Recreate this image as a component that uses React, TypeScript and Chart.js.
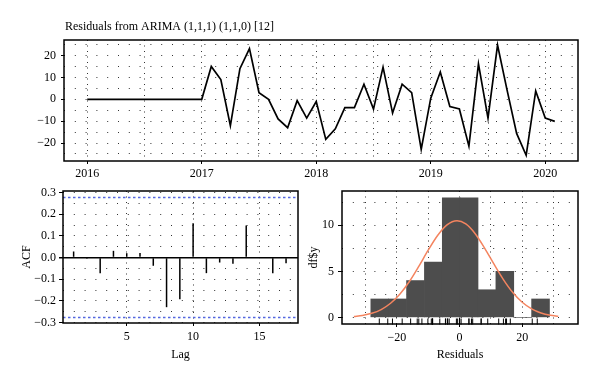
import React, { useEffect, useRef } from 'react';
import { Chart, registerables } from 'chart.js';

Chart.register(...registerables);

// ---------- DATA ----------
const chartTitle = 'Residuals from ARIMA (1,1,1) (1,1,0) [12]';
const startYear = 2016;
// monthly residuals Jan 2016 .. Feb 2020
const residuals = [
  0, 0, 0, 0, 0, 0, 0, 0, 0, 0, 0, 0,
  0, 15, 9, -12, 14, 23.2, 3, 0, -9, -13, -0.6, -8.6,
  -1, -18.3, -13.5, -3.8, -3.8, 6.9, -4.5, 14.7, -6.3, 6.9, 3, -22.9,
  0.5, 12.5, -3.3, -4.4, -21.4, 16.2, -8.6, 24.8, 4.2, -15.6, -25.6, 3.8,
  -8.6, -10.1,
];
const yearTicks = [2016, 2017, 2018, 2019, 2020];

const acfLags = [1, 2, 3, 4, 5, 6, 7, 8, 9, 10, 11, 12, 13, 14, 15, 16, 17];
const acfValues = [0.028, -0.005, -0.072, 0.031, 0.02, 0.021, -0.038, -0.229, -0.192, 0.158, -0.072, -0.023, -0.029, 0.148, -0.003, -0.072, -0.026];
const acfBound = 0.277;

const histBinEdges = [-28.3, -22.6, -16.9, -11.2, -5.5, 0.2, 5.9, 11.6, 17.3, 23.0, 28.7];
const histCounts = [2, 2, 4, 6, 13, 13, 3, 5, 0, 2];
const normalCurveX = [-33.7, -31, -28, -25, -22, -19, -16, -13, -10, -7, -4, -0.8, 2, 5, 8, 11, 14, 17, 20, 23, 26, 29, 31.5];
const normalCurveY = [0.1, 0.21, 0.44, 0.85, 1.53, 2.54, 3.9, 5.55, 7.3, 8.9, 10.05, 10.5, 10.15, 9.09, 7.53, 5.78, 4.11, 2.7, 1.64, 0.93, 0.48, 0.23, 0.12];

// ---------- STYLE ----------
const FONT_FAMILY = "'Liberation Serif', 'Times New Roman', serif";
const FONT = { family: FONT_FAMILY, size: 12 };
const DOT = '#333';
const ROW_DASH = [1, 9.8];
const COL_DASH = [1, 4.5];

const minus = (s: string) => s.replace('-', '\u2212');
const near = (a: number, b: number) => Math.abs(a - b) < 1e-6;
const isMult = (v: number, m: number) => near(v / m, Math.round(v / m));

const framePlugin = {
  id: 'frame',
  afterDraw(chart: any) {
    const { ctx, chartArea: a } = chart;
    ctx.save();
    ctx.strokeStyle = '#000';
    ctx.lineWidth = 1.5;
    ctx.setLineDash([]);
    ctx.strokeRect(a.left, a.top, a.right - a.left, a.bottom - a.top);
    ctx.restore();
  },
};

const titlePlugin = {
  id: 'tsTitle',
  afterDraw(chart: any) {
    const { ctx, chartArea: a } = chart;
    ctx.save();
    ctx.font = `12px ${FONT_FAMILY}`;
    ctx.fillStyle = '#000';
    ctx.textBaseline = 'alphabetic';
    ctx.textAlign = 'left';
    ctx.fillText(chartTitle, a.left + 1, 30);
    ctx.restore();
  },
};

const boundPlugin = {
  id: 'acfBounds',
  afterDatasetsDraw(chart: any) {
    const { ctx, chartArea: a, scales } = chart;
    ctx.save();
    ctx.strokeStyle = '#5468e0';
    ctx.lineWidth = 1.5;
    ctx.setLineDash([2.5, 2.5]);
    for (const b of [acfBound, -acfBound]) {
      const py = scales.y.getPixelForValue(b);
      ctx.beginPath();
      ctx.moveTo(a.left, py);
      ctx.lineTo(a.right, py);
      ctx.stroke();
    }
    ctx.restore();
  },
};

function tsConfig(): any {
  const pts = residuals.map((v, i) => ({ x: startYear + i / 12, y: v }));
  return {
    type: 'line',
    data: {
      datasets: [
        { data: pts, borderColor: '#000', borderWidth: 1.7, pointRadius: 0, tension: 0, fill: false },
      ],
    },
    options: {
      animation: false,
      responsive: false,
      layout: { padding: { left: 0, right: 22, top: 40, bottom: 197 } },
      plugins: { legend: { display: false }, tooltip: { enabled: false } },
      scales: {
        x: {
          type: 'linear',
          min: 2015.797,
          max: 2020.286,
          offset: false,
          afterFit: (s: any) => { s.height = 24; },
          ticks: {
            stepSize: 0.5, includeBounds: false, autoSkip: false, maxRotation: 0, padding: 3,
            font: FONT, color: '#000',
            callback: (v: number) => (yearTicks.some((y) => near(y, v)) ? String(Math.round(v)) : ''),
          },
          grid: {
            color: DOT, lineWidth: 1, tickLength: 3, tickWidth: 1,
            tickColor: (c: any) => (c.tick && isMult(c.tick.value, 1) ? '#000' : 'rgba(0,0,0,0)'),
          },
          border: { display: false, dash: COL_DASH },
        },
        y: {
          type: 'linear',
          min: -28.2,
          max: 27.1,
          afterFit: (s: any) => { s.width = 64; },
          ticks: {
            stepSize: 5, includeBounds: false, autoSkip: false, padding: 5, font: FONT, color: '#000',
            callback: (v: number) => (isMult(v, 10) ? minus(String(Math.round(v))) : ''),
          },
          grid: {
            color: DOT, lineWidth: 1, tickLength: 3, tickWidth: 1,
            tickColor: (c: any) => (c.tick && isMult(c.tick.value, 10) ? '#000' : 'rgba(0,0,0,0)'),
          },
          border: { display: false, dash: ROW_DASH },
        },
      },
    },
    plugins: [framePlugin, titlePlugin],
  };
}

function acfConfig(): any {
  return {
    type: 'line',
    data: {
      datasets: [
        {
          type: 'bar',
          data: acfLags.map((l, i) => ({ x: l, y: acfValues[i] })),
          backgroundColor: '#000',
          borderWidth: 0,
          barThickness: 1.5,
          inflateAmount: 0,
        },
      ],
    },
    options: {
      animation: false,
      responsive: false,
      layout: { padding: { left: 0, right: 302, top: 191, bottom: 0 } },
      plugins: { legend: { display: false }, tooltip: { enabled: false } },
      scales: {
        x: {
          type: 'linear', min: 0.2, max: 17.9, offset: false,
          afterFit: (s: any) => { s.height = 59; },
          ticks: { stepSize: 5, includeBounds: false, autoSkip: false, maxRotation: 0, padding: 3.5, font: FONT, color: '#000' },
          grid: { color: DOT, lineWidth: 1, tickLength: 3, tickColor: '#000', offset: false },
          border: { display: false, dash: COL_DASH },
          title: { display: true, text: 'Lag', font: FONT, color: '#000', padding: { top: 0, bottom: 20 } },
        },
        y: {
          type: 'linear', min: -0.302, max: 0.307,
          afterFit: (s: any) => { s.width = 63; },
          ticks: {
            stepSize: 0.05, includeBounds: false, autoSkip: false, padding: 3, font: FONT, color: '#000',
            callback: (v: number) => (isMult(v, 0.1) ? minus((Math.abs(v) < 1e-9 ? 0 : v).toFixed(1)) : ''),
          },
          grid: {
            color: (c: any) => (c.tick && Math.abs(c.tick.value) < 1e-9 ? '#000' : DOT),
            lineWidth: (c: any) => (c.tick && Math.abs(c.tick.value) < 1e-9 ? 1.5 : 1),
            tickLength: 4,
            tickColor: (c: any) => (c.tick && isMult(c.tick.value, 0.1) ? '#000' : 'rgba(0,0,0,0)'),
          },
          border: { display: false, dash: (c: any) => (c.tick && Math.abs(c.tick.value) < 1e-9 ? [] : ROW_DASH) },
          title: { display: true, text: 'ACF', font: FONT, color: '#000', padding: { top: 19.5, bottom: 0 } },
        },
      },
    },
    plugins: [framePlugin, boundPlugin],
  };
}

function histConfig(): any {
  const centers = histCounts.map((_, i) => (histBinEdges[i] + histBinEdges[i + 1]) / 2);
  return {
    type: 'line',
    data: {
      datasets: [
        {
          type: 'line',
          order: 0,
          data: normalCurveX.map((x, i) => ({ x, y: normalCurveY[i] })),
          borderColor: '#f4845f',
          borderWidth: 1.5,
          pointRadius: 0,
          tension: 0.4,
          cubicInterpolationMode: 'monotone',
          fill: false,
        },
        {
          type: 'line',
          order: 1,
          showLine: false,
          data: residuals.map((r) => ({ x: r, y: -0.45 })),
          pointStyle: 'line',
          rotation: 90,
          pointRadius: 3,
          pointBorderWidth: 1,
          pointBorderColor: '#000',
          borderColor: '#000',
          clip: false,
        },
        {
          type: 'bar',
          order: 2,
          data: centers.map((c, i) => ({ x: c, y: histCounts[i] })),
          backgroundColor: '#4d4d4d',
          borderWidth: 0,
          barPercentage: 1,
          categoryPercentage: 1,
        },
      ],
    },
    options: {
      animation: false,
      responsive: false,
      layout: { padding: { left: 300, right: 22, top: 191, bottom: 0 } },
      plugins: { legend: { display: false }, tooltip: { enabled: false } },
      scales: {
        x: {
          type: 'linear', min: -37.5, max: 37.8, offset: false,
          afterFit: (s: any) => { s.height = 58; },
          ticks: {
            stepSize: 10, includeBounds: false, autoSkip: false, maxRotation: 0, padding: 4, font: FONT, color: '#000',
            callback: (v: number) => (isMult(v, 20) ? minus(String(Math.round(v))) : ''),
          },
          grid: {
            color: DOT, lineWidth: 1, tickLength: 3, offset: false,
            tickColor: (c: any) => (c.tick && isMult(c.tick.value, 20) ? '#000' : 'rgba(0,0,0,0)'),
          },
          border: { display: false, dash: COL_DASH },
          title: { display: true, text: 'Residuals', font: FONT, color: '#000', padding: { top: 0, bottom: 20 } },
        },
        y: {
          type: 'linear', min: -0.72, max: 13.73,
          afterFit: (s: any) => { s.width = 42; },
          ticks: {
            stepSize: 2.5, includeBounds: false, autoSkip: false, padding: 4, font: FONT, color: '#000',
            callback: (v: number) => (isMult(v, 5) ? String(Math.round(v)) : ''),
          },
          grid: {
            color: DOT, lineWidth: 1, tickLength: 4,
            tickColor: (c: any) => (c.tick && isMult(c.tick.value, 5) ? '#000' : 'rgba(0,0,0,0)'),
          },
          border: { display: false, dash: ROW_DASH },
          title: { display: true, text: 'df$y', font: FONT, color: '#000', padding: { top: 6.8, bottom: 0 } },
        },
      },
    },
    plugins: [framePlugin],
  };
}

function Layer({ make }: { make: () => any }) {
  const ref = useRef<HTMLCanvasElement | null>(null);
  useEffect(() => {
    if (!ref.current) return;
    const chart = new Chart(ref.current, make());
    return () => chart.destroy();
  }, [make]);
  return (
    <canvas
      ref={ref}
      width={600}
      height={382}
      style={{ position: 'absolute', left: 0, top: 0, width: 600, height: 382 }}
    />
  );
}

export default function App() {
  return (
    <div style={{ position: 'absolute', left: 0, top: 0, width: 600, height: 382, background: '#fff', overflow: 'hidden' }}>
      <Layer make={tsConfig} />
      <Layer make={acfConfig} />
      <Layer make={histConfig} />
    </div>
  );
}
